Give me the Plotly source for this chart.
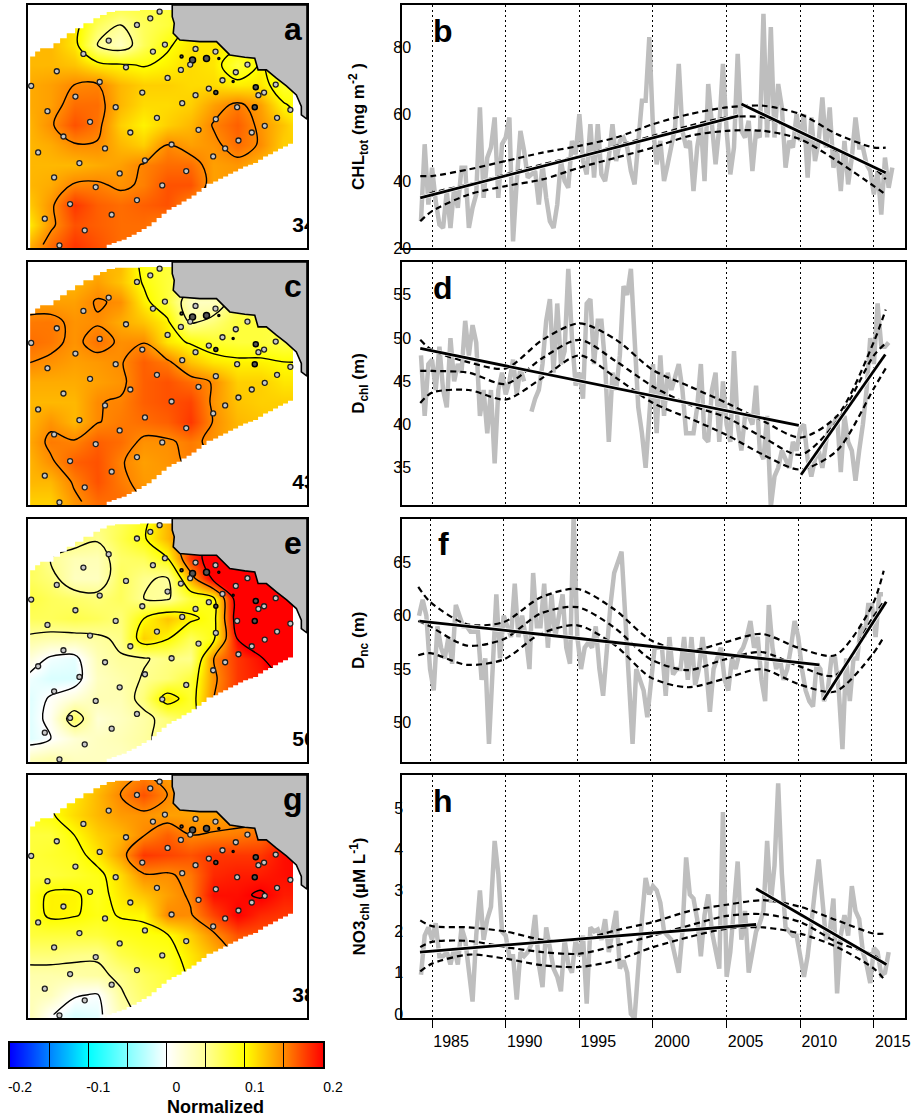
import plotly.graph_objects as go

W, H = 914, 1118
FONT = "Liberation Sans, Arial, sans-serif"

# ---------- time series (quarterly) ----------
years_start = 1984.25
chl_tot = [28,51,33,44,34,27,26,37,26,38,
           32,44,44,26,32,36,62,35,47,50,
           59,35,51,53,59,22,40,55,49,41,
           42,43,33,45,35,28,26,33,46,40,
           38,52,48,60,46,42,57,41,57,42,
           40,47,57,46,52,53,50,43,39,52,
           64,64,83,56,45,52,40,45,50,56,
           75,55,50,52,37,50,57,40,69,55,
           45,56,75,55,42,50,78,55,53,58,
           43,55,53,90,53,86,53,69,62,44,
           52,50,60,52,60,41,59,46,52,65,
           50,62,44,49,37,52,39,47,59,50,
           50,45,43,36,43,30,47,38,44]
d_chl = [48,41,47,47.5,44,49,44,42,50,45,
         47,46,52,48,51.5,49.5,41,44,39,44,
         35.5,44,46,43.5,45,47.5,43.5,46.5,45,None,
         41.5,43,44,47,52,54.5,46,54,47,48.5,
         58,50,44.5,46,43,54,54.5,47,52,52,
         47,38,46,44,48,56,55,58,50,42,
         39,35,41,47,39,48,41,46,44,45.5,
         47,44,39,39,39,42,47,38.5,38,44,
         46,38,45,40,38,48.5,40,37,41,41,
         40,44.5,37,36,41,30.5,34,35,37,36,
         35,38,37,39.5,40,36,34,36,37,35,
         38,40,40,41,34.5,41,38,37,33.5,37,
         40,44,50,47,54,49,49,49.5]
d_nc = [60,61.5,60,55,53,59,57,56,58,55.5,
        61,60,59,59,58.5,58.5,58.5,54,56,48,
        55,62,56,60,59,58,63,58,60,58,
        55,64,59,59,63,57,62,58,60,62,
        57,55.5,69.5,58,55,57,57.5,57,59,55,
        52.5,57,61,64,65,66,60,54,48,55,
        54,53,50.5,54,57,57,57,52.5,58,54.5,
        55,55,58,54,58,53.5,55,58,55,51,
        55,56,57,54,53,56,55,56.5,57,58,
        59.5,57,58,54,52,61,57,55,56,54,
        55,57,59.5,58,55,53,52,51.5,55.5,55,
        52,53,56,56,53,47.5,56,52,56,56,
        59,58,61,61,58,62,62]
no3_chl = [1.05,2,2.2,1.9,2.3,1.5,1.5,1.6,1.3,1.7,
           1.3,2.2,1.9,1.2,0.4,2,3.1,1.9,2.4,2.7,
           4.3,3.5,2.1,2,1.5,1.5,0.45,1.6,1.5,1.6,
           1.8,2.5,1.3,0.75,2.2,1.7,1.2,1,0.65,1.9,
           1.3,1.1,1.9,1.5,2,0.35,2.2,2.1,2.15,1.9,
           2.4,1.6,2.1,2.6,1.2,1.4,1.1,0.1,0,1.4,
           2.4,3.4,3,3.2,3.1,2.8,2.1,2,1.9,1.5,
           1.1,2.1,3.9,3,2.9,2.4,1.5,2.5,3,2.1,
           1.6,1.2,5,1,1.6,2.8,3.8,1.9,2.6,1.1,
           1.6,2.1,2.3,2.6,4.3,2.8,3.7,5.7,3.5,2.2,
           2.1,2,2,1.5,1,1.5,2.4,3.1,3.85,3,
           1.9,2.1,2.9,0.6,2,2.5,2,3.2,2.6,2.4,
           1.6,1.3,0.85,1.7,1.6,1.05,1.1,1.6]

# knot years of the fitted smooth curves
fit_years = [1984.2,1985,1987.5,1990,1992.5,1995,1997.5,2000,2002.5,2005,2007.5,2010,2012.5,2015,2015.8]

b_up  = [41.5,41.5,43.5,46,48.5,50.5,53,57,60,62,62.5,60,54,50,50]
b_mid = [35,36.5,39,42,45,47.5,50.5,53.5,56.5,59,59,54.5,49,44,40.5]
b_low = [28,31,36,38.5,40.5,44,47,50,53.5,55,55,52.5,46,38.5,36]
d_up  = [49.8,48.6,47.2,46.5,49.8,51.7,49.8,46.3,44.4,42.5,40.4,38.5,41,49.6,53.3]
d_mid = [46.2,46.2,46,44.7,47.7,49.8,47.3,44.4,42.3,40.8,38.5,36.5,40.4,48,49.4]
d_low = [42.5,43.7,44,42.9,45.4,48,45.4,42.5,40.7,38.8,36.5,34.8,37,44.2,46.5]
f_up  = [62.7,61.3,59.2,59.4,61.7,62.5,60.6,57.7,56.7,57.5,58.3,57,56.3,60.9,64.2]
f_mid = [59.5,59,57.2,57.8,60.2,60.8,58.9,55.9,54.9,55.9,56.6,55.3,54.4,59.7,61.3]
f_low = [56.3,56.5,55.4,55.9,58.3,59.1,57.3,54.2,53.3,54.1,55,53.6,52.9,56.3,58]
h_up  = [2.37,2.23,2.2,2.1,1.9,1.9,2.13,2.33,2.6,2.75,2.86,2.7,2.37,2.05,2.05]
h_mid = [1.72,1.85,1.87,1.72,1.6,1.56,1.76,2,2.25,2.48,2.52,2.33,1.84,1.52,1.28]
h_low = [1.13,1.32,1.54,1.44,1.28,1.24,1.4,1.72,1.97,2.17,2.2,2.05,1.72,1.2,0.89]

# straight trend segments: (years, values)
b_trend = [([1984.2,2005.8],[35,59.5]), ([2006,2015.8],[63,42.5])]
d_trend = [([1984.2,2009.9],[48.8,39.9]), ([2010.05,2015.77],[34.2,48.1])]
f_trend = [([1984.28,2011.44],[59.5,55.4]), ([2011.7,2015.97],[52.1,61.3])]
h_trend = [([1984.18,2007],[1.6,2.27]), ([2007,2015.85],[3.14,1.3])]

# ---------- maps: values in hundredths on a regular grid ----------
grid_x = [82,152,222,292,362,432,502,572,642,712,782,852,922]
grid_y = [15,75,135,195,255,315,375,435,495,555,615,675,735]

map_a = [
 [13,13,12,9,8,8,8,10,10,10,10,10,10],
 [13,13,11,7,5,7,8,10,10,10,10,10,10],
 [13,13,11,5,3,7,9.7,11,11,10.5,10,10,10],
 [13,13,12.5,10.8,10.3,9.8,10.5,11.5,11,8,10.2,9,9],
 [13.5,14,15,15.2,13,12,12,11.5,11.5,10.7,11,8.5,9],
 [13.5,14,16,16,13,11.5,11.5,12,14,15.5,14,10.2,9],
 [13,14.7,17,15.7,12,10.5,12,13,15.2,16.5,14.5,12.5,10],
 [13,13.5,14.8,14.8,13,12,15,14,14.5,16,14.8,12,12],
 [13,13,13,13.5,14,15.2,16,16,14,14.4,13,12,12],
 [13,13.5,15.2,15.3,14.6,15.3,17,17,14,14,13,13,13],
 [12,14.5,18,16.5,16,16.5,17,15,14,14,13,13,13],
 [10.5,14.5,17,16.5,16,16,15,14,14,14,13,13,13],
 [13,16,18,17,16,16,15,14,14,14,13,13,13]]

map_c = [
 [12,12,12,13,13,9,8,8,8,8,8,8,8],
 [13,13,13,14,12.5,9.7,8,7,7,7,7,7,7],
 [14,14,14,15.2,14.7,10.7,8,3,3,7,7,7,7],
 [15.5,15.6,14.5,14.8,13.5,12.5,10.5,4.5,6,8,8,8,8],
 [16,15.6,14.5,15.8,14.7,14.9,11,9.7,8.5,8,8,7.5,8],
 [15.1,14.6,14,14.3,14.8,16.5,15.5,12.5,11,10.5,10.5,10,10],
 [13.5,13.5,13.5,14,14.5,16.5,17,16,14.8,12,12,11,11],
 [13,13,13,14.9,15.2,16.5,17,17.5,14.5,12.5,12,12,12],
 [13,14.5,13,14.9,15.5,16,16.5,18,14.8,13,12.5,12,12],
 [13.5,15.5,15.2,16.5,16,14.6,14.7,15.5,14.5,13,13,13,13],
 [13,14.7,16.5,17,15.2,14,14.5,15.3,15,13,13,13,13],
 [13,13,15.3,17,15.5,14.3,14,14,14,13,13,13,13],
 [12,12,14.5,16,16,15,14,14,14,13,13,13,13]]

map_e = [
 [7,7,7,6,7,9,13,16,22,24,24,24,24],
 [7,7,6.5,5.3,7.5,9.7,13,17,22,25,25,25,25],
 [7.5,5,3.5,3.5,6.5,7,9.8,18,22,25,25,25,25],
 [7,6,3,3,7,5.3,4.7,13.5,21,25,25,25,25],
 [8,7,6.5,6,7,5,4.6,8,9.5,22,25,25,25],
 [7,7,7.5,7,6,10,12.5,10.6,9,22,25,25,25],
 [4.5,4,4,4.5,5.5,12,10.2,7,9.5,20,24,25,25],
 [2,-0.5,-1,3.5,4.8,4.8,5.6,5.3,15,18,19.5,23,23],
 [-0.5,-1.5,-1.5,3,4,5.2,6,8,14.5,18,19,20,20],
 [-1.5,0.3,2,3.5,3.5,6,11.5,8.5,15,18,19,20,20],
 [-1.5,0.8,7,2,3,4.2,6,8,15,18,19,20,20],
 [-1.5,0,2,3,3.5,4.5,6,8,15,18,19,20,20],
 [3,4,3,3,3,4,6,8,15,18,19,20,20]]

map_g = [
 [10,10,11,12,14,15.2,14,13,13,13,13,13,13],
 [10,10,11,13,15.1,17,15,13.5,13.5,14,14,14,14],
 [9,9.7,11.5,13,14.2,14.5,14,14,14,14,14,14,14],
 [8,8,10,12,13,14.9,16.5,15,15.2,15.5,16,18,18],
 [8,8.5,9,11,14,18,17.5,17,18,18,18,19.5,20],
 [8,8,8.5,9.3,11.5,14.8,14.7,15.6,18.5,19,19,19.5,20],
 [8.5,10.5,10.4,9,11,12.5,14,15.3,19.5,19.5,20.3,19,19],
 [8.5,10.5,10.2,9.3,10.2,10.3,15,14.8,17.5,20,18.5,18,18],
 [8,8,8,8,9,9.5,9.9,12,14.7,17,17,17,17],
 [6,6,5.5,5.3,7.5,8.5,9,11,13,15.5,16,16,16],
 [4,4,4.2,4.5,5.5,7,8,10.5,13,15,16,16,16],
 [3.5,3.2,0.3,-0.2,4.7,6.5,8,10,13,15,16,16,16],
 [4,0.2,-1.5,-1,3.5,6,8,10,13,15,16,16,16]]

stations_x = [479,451,411,326,495,459,250,587,647,378,571,543,708,743,170,503,668,299,93,427,627,828,793,776,587,226,547,347,712,142,872,648,832,471,270,795,596,391,756,190,716,315,676,515,114,640,238,435,359,162,559,487,287,411,210,335,134,254,178]
stations_y = [35,55,75,122,134,155,162,147,155,202,194,210,217,194,214,234,241,246,258,278,266,254,278,286,286,290,310,322,322,334,330,358,354,354,366,378,390,398,398,410,422,446,446,434,458,470,490,482,521,533,514,557,562,601,613,645,657,692,737]

mask_nw_x = [82,517,517,420,345,320,300,280,250,225,200,180,160,120,105,90,90,82,82]
mask_nw_y = [15,15,30,32,36,45,55,70,85,100,115,130,145,155,170,182,745,745,15]
mask_se_x = [320,335,350,365,380,395,410,425,440,455,470,485,500,515,530,545,560,575,590,605,620,640,655,670,685,700,715,730,745,760,775,790,805,820,835,850,865,880,880,922,922,320]
mask_se_y = [735,730,725,720,712,705,697,688,680,668,655,642,630,622,615,605,597,587,576,565,552,545,537,530,522,515,507,500,495,490,480,470,463,455,447,440,432,425,270,270,745,745]
land_x = [517,517,523,520,540,600,650,675,690,735,765,775,800,830,860,890,905,905,922,922,517]
land_y = [15,50,70,100,120,125,125,150,165,172,175,210,210,235,258,285,320,345,358,15,15]
islands_x = [545,578,620,657,768,765,648,700]
islands_y = [170,180,176,176,262,322,278,245]
islands_size = [3,6,6,2,5,5,4,2]

map_letters = ["a","c","e","g"]
map_numbers = ["34","43","50","38"]
series_letters = ["b","d","f","h"]
series_titles = ["CHL<sub>tot</sub> (mg m<sup>-2</sup> )", "D<sub>chl</sub> (m)", "D<sub>nc</sub> (m)", "NO3<sub>chl</sub> (µM L<sup>-1</sup>)"]
series_ticks = [[20,40,60,80],[35,40,45,50,55],[50,55,60,65],[0,1,2,3,4,5]]
series_ranges = [[20,92.6],[30.7,58.8],[46.3,69.1],[0,5.9]]
year_ticks = [1985,1990,1995,2000,2005,2010,2015]
legend_ticks = [-0.2,-0.1,0,0.1,0.2]
legend_text = ["-0.2","-0.1","0","0.1","0.2"]
legend_minor = [-0.15,-0.05,0.05,0.15]
legend_ramp = [-0.2,-0.175,-0.15,-0.125,-0.1,-0.075,-0.05,-0.025,0,0.025,0.05,0.075,0.1,0.125,0.15,0.175,0.2]

COLORSCALE = [[0,"#0000FF"],[.125,"#0082FF"],[.25,"#00FFFF"],[.375,"#82FFFF"],[.5,"#FFFFFF"],
              [.625,"#FFFF96"],[.75,"#FFFF00"],[.875,"#FF8800"],[1,"#FF0000"]]
GRAY = "#BEBEBE"

rows_px = [(5,248),(262,505),(518.5,762),(775,1018)]
MAP_X = (27.5,307)
TS_X = (402,905)

fig = go.Figure()
layout = dict(width=W, height=H, margin=dict(l=0,r=0,t=0,b=0,autoexpand=False), autosize=False,
              paper_bgcolor="white", plot_bgcolor="white", showlegend=False,
              font=dict(family=FONT,color="black"),
              coloraxis=dict(colorscale=COLORSCALE,cmin=-0.2,cmax=0.2,showscale=False))
ann = []

def xdom(l,r): return [l/W,r/W]
def ydom(t,b): return [1-b/H,1-t/H]
def px(x,y): return dict(x=x/W,y=1-y/H,xref="paper",yref="paper",xanchor="center",yanchor="middle")

maps = [map_a,map_c,map_e,map_g]
series = [chl_tot,d_chl,d_nc,no3_chl]
fits = [(b_up,b_mid,b_low),(d_up,d_mid,d_low),(f_up,f_mid,f_low),(h_up,h_mid,h_low)]
trends = [b_trend,d_trend,f_trend,h_trend]

for i in range(4):
    top,bot = rows_px[i]
    n = 2*i+1
    ax = "x%d"%n; ay = "y%d"%n
    z = [[v/100 for v in row] for row in maps[i]]
    fig.add_trace(go.Heatmap(x=grid_x,y=grid_y,z=z,coloraxis="coloraxis",zsmooth="best",xaxis=ax,yaxis=ay,hoverinfo="skip"))
    fig.add_trace(go.Contour(x=grid_x,y=grid_y,z=z,showscale=False,xaxis=ax,yaxis=ay,
                             contours=dict(start=0,end=0.2,size=0.05,coloring="none"),
                             line=dict(color="black",width=1.4,smoothing=1),hoverinfo="skip"))
    for mx,my in ((mask_nw_x,mask_nw_y),(mask_se_x,mask_se_y)):
        fig.add_trace(go.Scatter(x=mx,y=my,mode="lines",fill="toself",fillcolor="white",
                                 line=dict(width=0,color="white",shape="hv"),xaxis=ax,yaxis=ay,hoverinfo="skip"))
    fig.add_trace(go.Scatter(x=land_x,y=land_y,mode="lines",fill="toself",fillcolor=GRAY,
                             line=dict(width=1.6,color="black"),xaxis=ax,yaxis=ay,hoverinfo="skip"))
    fig.add_trace(go.Scatter(x=islands_x,y=islands_y,mode="markers",xaxis=ax,yaxis=ay,
                             marker=dict(size=islands_size,color="#555555",opacity=1,line=dict(color="black",width=1.5))))
    fig.add_trace(go.Scatter(x=stations_x,y=stations_y,mode="markers",xaxis=ax,yaxis=ay,
                             marker=dict(size=5,color="#C8C8C8",opacity=1,line=dict(color="#202020",width=1.3))))
    fig.add_trace(go.Scatter(x=[878],y=[682],mode="text",text=["<b>%s</b>"%map_numbers[i]],textposition="middle right",
                             textfont=dict(size=21,family=FONT,color="black"),xaxis=ax,yaxis=ay))
    frame = dict(automargin=False,showline=True,mirror=True,linecolor="black",linewidth=1.5,showticklabels=False,ticks="",showgrid=False,zeroline=False)
    layout["xaxis%d"%n] = dict(domain=xdom(*MAP_X),range=[82,922],anchor=ay,**frame)
    layout["yaxis%d"%n] = dict(domain=ydom(top,bot),range=[745,15],anchor=ax,**frame)
    ann.append(dict(text="<b>%s</b>"%map_letters[i],showarrow=False,font=dict(size=32,family=FONT,color="black"),
                    **px(293,top+24)))

    # time series panel
    n = 2*i+2
    ax = "x%d"%n; ay = "y%d"%n
    s = series[i]
    yrs = [years_start+0.25*k for k in range(len(s))]
    fig.add_trace(go.Scatter(x=yrs,y=s,mode="lines",line=dict(color=GRAY,width=4.5,shape="linear"),
                             xaxis=ax,yaxis=ay,connectgaps=False,hoverinfo="skip"))
    for f in fits[i]:
        fig.add_trace(go.Scatter(x=fit_years,y=f,mode="lines",line=dict(color="black",width=2.2,dash="6px,4px",shape="spline",smoothing=0.8),
                                 xaxis=ax,yaxis=ay,hoverinfo="skip"))
    for tx,ty in trends[i]:
        fig.add_trace(go.Scatter(x=tx,y=ty,mode="lines",line=dict(color="white",width=4.2),xaxis=ax,yaxis=ay,hoverinfo="skip"))
        fig.add_trace(go.Scatter(x=tx,y=ty,mode="lines",line=dict(color="black",width=2.8),xaxis=ax,yaxis=ay,hoverinfo="skip"))
    shift = 0.136 if i==2 else 0
    last = i==3
    layout["xaxis%d"%n] = dict(automargin=False,domain=xdom(*TS_X),range=[1982.96+shift,2017.11+shift],anchor=ay,
        tickvals=year_ticks,ticktext=[str(y) for y in year_ticks],showticklabels=last,
        ticks="outside" if last else "",ticklen=8,tickwidth=1,tickcolor="black",
        ticklabelshift=19,ticklabelstandoff=0,tickfont=dict(size=16,family=FONT,color="black"),
        showgrid=True,griddash="2px,3px",gridcolor="black",gridwidth=1,zeroline=False,
        showline=True,mirror=True,linecolor="black",linewidth=1.5)
    layout["yaxis%d"%n] = dict(automargin=False,domain=ydom(top,bot),range=series_ranges[i],anchor=ax,
        tickvals=series_ticks[i],showgrid=False,zeroline=False,ticks="",
        ticklabelstandoff=-6 if last else -14, ticklabelshift=-4 if last else 0,
        tickfont=dict(size=16,family=FONT,color="black"),
        showline=True,mirror=True,linecolor="black",linewidth=1.5,
        title=dict(text="<b>%s</b>"%series_titles[i],font=dict(size=17,family=FONT,color="black"),standoff=24))
    ann.append(dict(text="<b>%s</b>"%series_letters[i],showarrow=False,font=dict(size=32,family=FONT,color="black"),
                    **px(443,top+26)))

# colour legend
fig.add_trace(go.Heatmap(x=legend_ramp,y=[0,1],z=[legend_ramp,legend_ramp],coloraxis="coloraxis",zsmooth="best",
                         xaxis="x9",yaxis="y9",hoverinfo="skip"))
layout["xaxis9"] = dict(automargin=False,domain=xdom(10,323),range=[-0.2,0.2],anchor="y9",tickvals=legend_ticks,ticktext=legend_text,
    ticks="inside",ticklen=24,tickwidth=1.2,tickcolor="black",layer="above traces",ticklabelshift=10,ticklabelstandoff=6,
    minor=dict(tickvals=legend_minor,ticks="inside",ticklen=24,tickwidth=1.2,tickcolor="black",showgrid=False),
    tickfont=dict(size=14,family=FONT,color="black"),showgrid=False,zeroline=False,
    showline=True,mirror=True,linecolor="black",linewidth=1.5)
layout["yaxis9"] = dict(automargin=False,domain=ydom(1043,1067),range=[0,1],anchor="x9",showticklabels=False,ticks="",showgrid=False,zeroline=False,
    showline=True,mirror=True,linecolor="black",linewidth=1.5)
ann.append(dict(text="<b>Normalized</b>",showarrow=False,font=dict(size=18,family=FONT,color="black"),**px(215,1107)))

layout["annotations"] = ann
fig.update_layout(**layout)
fig.write_html("out.html",config={"displayModeBar":False},
               post_script="document.documentElement.style.overflow='hidden';document.body.style.margin='0';document.body.style.overflow='hidden';")
